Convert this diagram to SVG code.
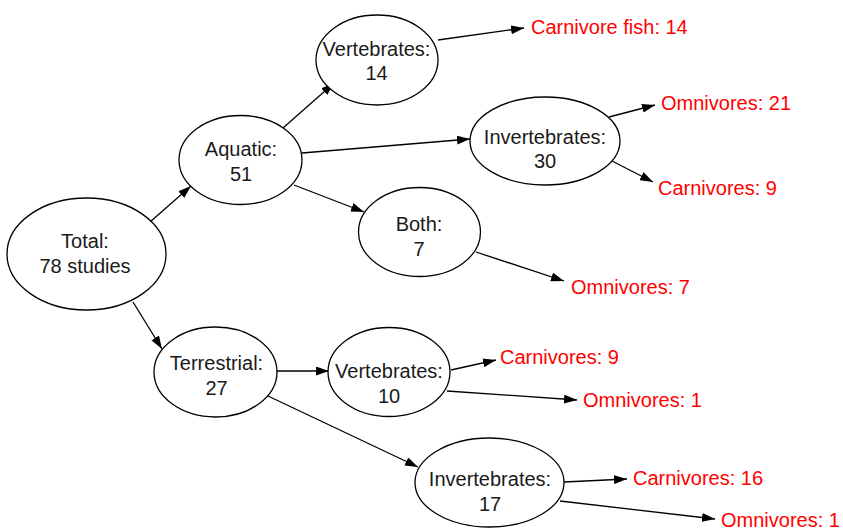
<svg xmlns="http://www.w3.org/2000/svg" width="843" height="529" viewBox="0 0 843 529">
<defs>
<style>
.node ellipse{fill:#fff;stroke:#000;stroke-width:1.3}
.node text{font-family:"Liberation Sans",Arial,sans-serif;font-size:20px;fill:#1a1a1a;text-anchor:middle}
.leaf{font-family:"Liberation Sans",Arial,sans-serif;font-size:20px;fill:#ff0000}
.edges line{stroke:#000;stroke-width:1.3;marker-end:url(#ah)}
</style>
<marker id="ah" markerUnits="userSpaceOnUse" markerWidth="13" markerHeight="9" refX="13" refY="4.5" orient="auto">
<path d="M0,0 L13,4.5 L0,9 z" fill="#000"/>
</marker>
</defs>
<rect width="843" height="529" fill="#fff"/>
<g class="edges" id="connectors">
<line x1="150" y1="222" x2="191" y2="186"/>
<line x1="133" y1="302" x2="162" y2="349"/>
<line x1="283" y1="128" x2="334" y2="83"/>
<line x1="302" y1="153" x2="470" y2="139"/>
<line x1="294" y1="185" x2="364" y2="212"/>
<line x1="438" y1="40" x2="524" y2="28"/>
<line x1="609" y1="117" x2="655" y2="105"/>
<line x1="612" y1="161" x2="653" y2="182"/>
<line x1="476" y1="252" x2="564" y2="281"/>
<line x1="277" y1="371" x2="329" y2="371"/>
<line x1="268" y1="396" x2="418" y2="467"/>
<line x1="451" y1="370" x2="496" y2="360"/>
<line x1="447" y1="391" x2="577" y2="400"/>
<line x1="564" y1="482" x2="627" y2="479"/>
<line x1="560" y1="501" x2="715" y2="519"/>
</g>
<g class="node" id="total">
<ellipse cx="86.5" cy="254" rx="79.5" ry="56"/>
<text x="85" y="248">Total:</text>
<text x="85" y="273">78 studies</text>
</g>
<g class="node" id="aquatic">
<ellipse cx="240.5" cy="160" rx="61.5" ry="44.5"/>
<text x="241" y="156">Aquatic:</text>
<text x="241" y="181">51</text>
</g>
<g class="node" id="terrestrial">
<ellipse cx="215.5" cy="372" rx="61.5" ry="45"/>
<text x="216.5" y="370">Terrestrial:</text>
<text x="216.5" y="395">27</text>
</g>
<g class="node" id="aq-vert">
<ellipse cx="377" cy="60" rx="61" ry="45"/>
<text x="376.5" y="56">Vertebrates:</text>
<text x="376.5" y="80">14</text>
</g>
<g class="node" id="aq-invert">
<ellipse cx="545" cy="141" rx="75" ry="44"/>
<text x="545" y="144">Invertebrates:</text>
<text x="545" y="168">30</text>
</g>
<g class="node" id="aq-both">
<ellipse cx="419.5" cy="232" rx="61" ry="44.5"/>
<text x="419" y="231">Both:</text>
<text x="419" y="256">7</text>
</g>
<g class="node" id="te-vert">
<ellipse cx="389" cy="372" rx="61" ry="44.5"/>
<text x="389" y="378">Vertebrates:</text>
<text x="389" y="403">10</text>
</g>
<g class="node" id="te-invert">
<ellipse cx="489.5" cy="482.5" rx="74.5" ry="44.5"/>
<text x="490" y="485.5">Invertebrates:</text>
<text x="490" y="510.5">17</text>
</g>
<g id="leaves">
<text class="leaf" x="531" y="34">Carnivore fish: 14</text>
<text class="leaf" x="661" y="110">Omnivores: 21</text>
<text class="leaf" x="658" y="195">Carnivores: 9</text>
<text class="leaf" x="571" y="294">Omnivores: 7</text>
<text class="leaf" x="500" y="364">Carnivores: 9</text>
<text class="leaf" x="583" y="407">Omnivores: 1</text>
<text class="leaf" x="633" y="484.5">Carnivores: 16</text>
<text class="leaf" x="721" y="527">Omnivores: 1</text>
</g>
</svg>
